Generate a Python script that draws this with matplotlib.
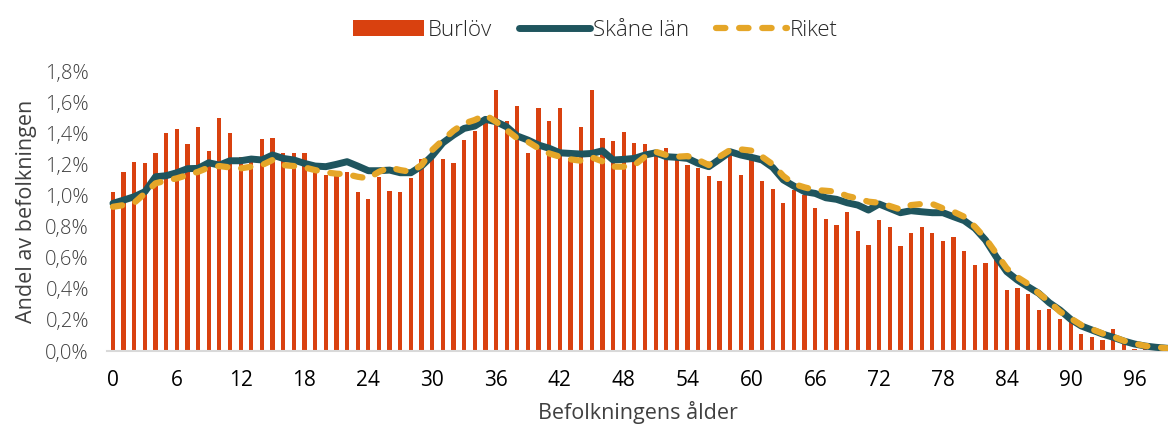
import matplotlib
matplotlib.use("Agg")
import matplotlib.pyplot as plt
from matplotlib.ticker import FuncFormatter

plt.rcParams['font.family'] = ['Open Sans', 'DejaVu Sans']
plt.rcParams['font.weight'] = 300

# Age 0..100 (share of population, %)
ages = list(range(101))

burlov = [1.02, 1.15, 1.215, 1.21, 1.27, 1.40, 1.425, 1.33, 1.44, 1.285,
          1.495, 1.40, 1.25, 1.22, 1.365, 1.37, 1.27, 1.27, 1.27, 1.18,
          1.13, 1.14, 1.15, 1.02, 0.98, 1.12, 1.03, 1.02, 1.115, 1.235,
          1.235, 1.232, 1.206, 1.354, 1.414, 1.463, 1.677, 1.48, 1.575, 1.27,
          1.56, 1.48, 1.562, 1.24, 1.437, 1.677, 1.367, 1.35, 1.407, 1.339,
          1.328, 1.28, 1.303, 1.24, 1.193, 1.178, 1.123, 1.095, 1.292, 1.129,
          1.228, 1.091, 1.041, 0.953, 1.035, 1.003, 0.917, 0.846, 0.812, 0.893,
          0.771, 0.683, 0.844, 0.799, 0.673, 0.756, 0.799, 0.756, 0.707, 0.735,
          0.643, 0.555, 0.566, 0.585, 0.394, 0.405, 0.366, 0.263, 0.27, 0.204,
          0.185, 0.109, 0.088, 0.071, 0.141, 0.06, 0.013, 0.013, 0.005, 0.003,
          0.002]

skane = [0.949, 0.970, 0.992, 1.024, 1.120, 1.127, 1.146, 1.172, 1.174, 1.210,
         1.195, 1.223, 1.223, 1.234, 1.228, 1.260, 1.238, 1.228, 1.206, 1.189,
         1.185, 1.200, 1.217, 1.189, 1.159, 1.159, 1.163, 1.146, 1.146, 1.189,
         1.255, 1.338, 1.388, 1.431, 1.446, 1.489, 1.474, 1.441, 1.382, 1.356,
         1.324, 1.303, 1.274, 1.270, 1.266, 1.270, 1.287, 1.228, 1.232, 1.238,
         1.260, 1.274, 1.249, 1.245, 1.238, 1.206, 1.185, 1.232, 1.281, 1.260,
         1.245, 1.228, 1.180, 1.100, 1.060, 1.024, 1.013, 0.985, 0.975, 0.953,
         0.938, 0.906, 0.945, 0.917, 0.889, 0.902, 0.895, 0.889, 0.889, 0.863,
         0.838, 0.789, 0.713, 0.606, 0.510, 0.456, 0.413, 0.371, 0.310, 0.263,
         0.204, 0.161, 0.135, 0.109, 0.088, 0.064, 0.045, 0.032, 0.024, 0.018,
         0.012]

riket = [0.927, 0.938, 0.953, 1.013, 1.078, 1.095, 1.110, 1.131, 1.152, 1.180,
         1.189, 1.180, 1.174, 1.185, 1.195, 1.228, 1.195, 1.189, 1.180, 1.163,
         1.148, 1.140, 1.136, 1.120, 1.110, 1.152, 1.180, 1.163, 1.152, 1.195,
         1.292, 1.356, 1.416, 1.463, 1.485, 1.517, 1.474, 1.420, 1.367, 1.345,
         1.303, 1.270, 1.249, 1.232, 1.223, 1.245, 1.219, 1.185, 1.185, 1.195,
         1.249, 1.281, 1.260, 1.249, 1.253, 1.228, 1.195, 1.249, 1.292, 1.296,
         1.288, 1.249, 1.200, 1.125, 1.073, 1.052, 1.035, 1.030, 1.024, 0.996,
         0.981, 0.960, 0.953, 0.932, 0.910, 0.938, 0.945, 0.945, 0.917, 0.895,
         0.863, 0.799, 0.724, 0.628, 0.531, 0.474, 0.431, 0.371, 0.317, 0.253,
         0.210, 0.167, 0.140, 0.113, 0.092, 0.066, 0.047, 0.033, 0.025, 0.018,
         0.012]

xticks = list(range(0, 97, 6))
yticks = [0.0, 0.2, 0.4, 0.6, 0.8, 1.0, 1.2, 1.4, 1.6, 1.8]

fig = plt.figure(figsize=(11.68, 4.28), dpi=100)
ax = fig.add_axes([107 / 1168, 77 / 428, 1 - 107 / 1168, 280 / 428])

bars = ax.bar(ages, burlov, width=0.4, color='#d9410f', label='Burlöv', zorder=2)
l_sk, = ax.plot(ages, skane, color='#1f555e', lw=5, solid_capstyle='round',
                solid_joinstyle='round', label='Skåne län', zorder=3)
l_ri, = ax.plot(ages, riket, color='#e5a628', lw=4.5, dashes=(1.5, 2.2),
                dash_capstyle='round', label='Riket', zorder=4)

ax.set_xlim(-0.56, 99.15)
ax.set_ylim(0, 1.8)
ax.set_xticks(xticks)
ax.set_yticks(yticks)
ax.yaxis.set_major_formatter(FuncFormatter(lambda v, p: f"{v:.1f}%".replace('.', ',')))
ax.tick_params(axis='y', length=0, labelsize=14.5, labelcolor='#404040', pad=13)
ax.tick_params(axis='x', length=0, labelsize=15, labelcolor='#000000', pad=14)
for lab in ax.get_xticklabels():
    lab.set_fontweight('normal')

for s in ['top', 'right', 'left']:
    ax.spines[s].set_visible(False)
ax.spines['bottom'].set_color('#d9d9d9')
ax.spines['bottom'].set_linewidth(1.5)

ax.set_xlabel('Befolkningens ålder', fontsize=15.5, color='#404040', labelpad=7)
ax.set_ylabel('Andel av befolkningen', fontsize=15.5, color='#404040', labelpad=6)

fig.legend([bars, l_sk, l_ri], ['Burlöv', 'Skåne län', 'Riket'],
           loc='upper center', bbox_to_anchor=(0.51, 1.0), ncol=3, frameon=False,
           fontsize=16, handlelength=3.2, handletextpad=0.15, columnspacing=1.2,
           labelcolor='#262626')

fig.savefig('out.png', dpi=100)
